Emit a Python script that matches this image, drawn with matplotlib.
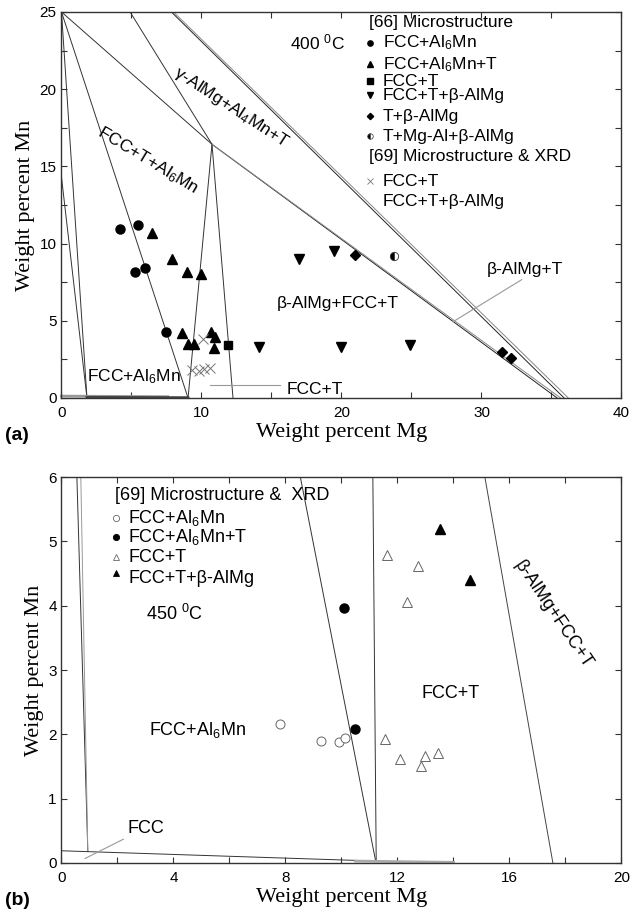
import matplotlib
matplotlib.use('Agg')
import matplotlib.pyplot as plt
from matplotlib.ticker import MultipleLocator

plt.rcParams['font.family'] = ['Liberation Sans', 'DejaVu Sans']
plt.rcParams['mathtext.default'] = 'regular'

# ---------------- Panel (a): 400 C ----------------
a_fcc_al6mn_x = [4.16, 5.47, 5.25, 5.97, 7.46]
a_fcc_al6mn_y = [10.95, 11.17, 8.14, 8.44, 4.27]
a_fcc_al6mn_t_x = [6.47, 7.86, 8.94, 9.96, 8.58, 9.06, 9.49, 10.66, 10.97, 10.92]
a_fcc_al6mn_t_y = [10.69, 9.03, 8.16, 8.03, 4.20, 3.49, 3.51, 4.24, 3.92, 3.23]
a_fcc_t_x = [11.88]
a_fcc_t_y = [3.46]
a_fcc_t_beta_x = [14.1, 20.0, 16.94, 19.5, 24.9]
a_fcc_t_beta_y = [3.29, 3.29, 9.00, 9.50, 3.40]
a_t_beta_x = [21.0, 31.45, 32.1]
a_t_beta_y = [9.29, 2.97, 2.58]
a_t_mgal_beta_x = [23.75]
a_t_mgal_beta_y = [9.22]
a_xrd_fcc_t_x = [10.1, 9.3, 9.8, 10.2, 10.6]
a_xrd_fcc_t_y = [3.81, 1.80, 1.75, 1.85, 1.95]

# phase boundary segments (x pair, y pair, colour)
a_bound_x = [[0, 1.82], [0, 1.82], [0, 9.04], [0, 10.75], [4.9, 10.75],
             [10.75, 9.04], [10.75, 12.25], [10.75, 35.4], [10.75, 35.65],
             [7.85, 35.9], [8.0, 36.2]]
a_bound_y = [[25, 0], [14.3, 0], [25, 0], [25, 16.43], [25, 16.43],
             [16.43, 0], [16.43, 0], [16.43, 0], [16.43, 0],
             [25, 0], [25, 0]]
a_bound_c = ['#333333', '#333333', '#333333', '#333333', '#333333',
             '#333333', '#333333', '#222222', '#888888',
             '#222222', '#888888']
a_floor_x = [[0, 7.6], [1.82, 9.04]]
a_floor_y = [[0.12, 0.08], [0.04, 0.02]]
a_floor_c = ['#999999', '#444444']
a_leader_x = [[27.99, 32.87], [10.6, 15.6]]
a_leader_y = [[4.95, 7.66], [0.84, 0.84]]

a_leg_labels = ['FCC+Al$_6$Mn', 'FCC+Al$_6$Mn+T', 'FCC+T', 'FCC+T+β-AlMg',
                'T+β-AlMg', 'T+Mg-Al+β-AlMg']
a_leg_y = [22.99, 21.62, 20.50, 19.62, 18.25, 16.95]
a_leg_markers = ['o', '^', 's', 'v', 'D', 'o']
a_leg2_labels = ['FCC+T', 'FCC+T+β-AlMg']
a_leg2_y = [14.03, 12.73]

# ---------------- Panel (b): 450 C ----------------
b_fcc_al6mn_x = [7.81, 9.28, 9.92, 10.12]
b_fcc_al6mn_y = [2.16, 1.90, 1.88, 1.95]
b_fcc_al6mn_t_x = [10.5, 10.08]
b_fcc_al6mn_t_y = [2.08, 3.96]
b_fcc_t_x = [11.61, 12.75, 12.35, 11.54, 12.09, 12.97, 12.83, 13.45]
b_fcc_t_y = [4.78, 4.62, 4.05, 1.93, 1.62, 1.66, 1.51, 1.71]
b_fcc_t_beta_x = [13.51, 14.6]
b_fcc_t_beta_y = [5.19, 4.40]

b_bound_x = [[0.55, 0.94], [0.69, 0.94], [0, 11.22], [8.53, 11.22],
             [11.12, 11.24], [15.12, 17.55]]
b_bound_y = [[6, 0.18], [6, 0.18], [0.19, 0.03], [6, 0.03],
             [6, 0.03], [6, 0]]
b_bound_c = ['#333333', '#999999', '#333333', '#333333', '#333333', '#444444']
b_floor_x = [[10.5, 14.0]]
b_floor_y = [[0.03, 0.01]]
b_leader_x = [[0.84, 2.21]]
b_leader_y = [[0.07, 0.37]]

b_leg_labels = ['FCC+Al$_6$Mn', 'FCC+Al$_6$Mn+T', 'FCC+T', 'FCC+T+β-AlMg']
b_leg_y = [5.36, 5.06, 4.75, 4.43]

fig = plt.figure(figsize=(6.30, 9.14), dpi=100)
ax1 = fig.add_axes([0.0976, 0.5646, 0.8889, 0.4223])
ax2 = fig.add_axes([0.0976, 0.0558, 0.8889, 0.4223])

serif = ['Liberation Serif', 'DejaVu Serif']
FS_A = 12.5
FS_B = 13


def style(ax, xmaj, xmin, ymaj, ymin):
    ax.xaxis.set_major_locator(MultipleLocator(xmaj))
    ax.xaxis.set_minor_locator(MultipleLocator(xmin))
    ax.yaxis.set_major_locator(MultipleLocator(ymaj))
    ax.yaxis.set_minor_locator(MultipleLocator(ymin))
    ax.tick_params(which='both', direction='in', top=True, right=True,
                   length=4, width=0.8, labelsize=11, color='#333333')
    ax.tick_params(axis='x', pad=6)
    for s in ax.spines.values():
        s.set_linewidth(1.0)
        s.set_color('#333333')


# ---- panel a ----
ax1.set_xlim(0, 40)
ax1.set_ylim(0, 25)
style(ax1, 10, 5, 5, 2.5)
for xs, ys, c in zip(a_bound_x, a_bound_y, a_bound_c):
    ax1.plot(xs, ys, color=c, lw=0.7)
for xs, ys, c in zip(a_floor_x, a_floor_y, a_floor_c):
    ax1.plot(xs, ys, color=c, lw=2.0, clip_on=False)
for xs, ys in zip(a_leader_x, a_leader_y):
    ax1.plot(xs, ys, color='#999999', lw=0.8)

ax1.plot(a_fcc_al6mn_x, a_fcc_al6mn_y, 'o', color='black', ms=6.5, ls='none')
ax1.plot(a_fcc_al6mn_t_x, a_fcc_al6mn_t_y, '^', color='black', ms=6.5, ls='none')
ax1.plot(a_fcc_t_x, a_fcc_t_y, 's', color='black', ms=5.5, ls='none')
ax1.plot(a_fcc_t_beta_x, a_fcc_t_beta_y, 'v', color='black', ms=6.5, ls='none')
ax1.plot(a_t_beta_x, a_t_beta_y, 'D', color='black', ms=5, ls='none')
ax1.plot(a_t_mgal_beta_x, a_t_mgal_beta_y, 'o', ms=6, ls='none', fillstyle='left',
         markerfacecolor='black', markerfacecoloralt='white', markeredgecolor='#333333',
         markeredgewidth=0.6)
ax1.plot(a_xrd_fcc_t_x, a_xrd_fcc_t_y, 'x', color='#777777', ms=6.5, mew=0.7, ls='none')

# legend (manual)
ax1.text(22.0, 24.35, '[66] Microstructure', fontsize=FS_A, va='center', ha='left')
for lab, y, m in zip(a_leg_labels, a_leg_y, a_leg_markers):
    if lab.startswith('T+Mg'):
        ax1.plot([22.05], [y], m, ms=4, fillstyle='left', markerfacecolor='black',
                 markerfacecoloralt='white', markeredgecolor='#333333', markeredgewidth=0.5)
    else:
        ax1.plot([22.05], [y], m, color='black', ms=3.8 if m != 'D' else 3.2)
    ax1.text(22.96, y, lab, fontsize=FS_A, va='center', ha='left')
ax1.text(22.0, 15.65, '[69] Microstructure & XRD', fontsize=FS_A, va='center', ha='left')
ax1.plot([22.05], [a_leg2_y[0]], 'x', color='#777777', ms=4, mew=0.6)
for lab, y in zip(a_leg2_labels, a_leg2_y):
    ax1.text(22.96, y, lab, fontsize=FS_A, va='center', ha='left')

ax1.text(16.3, 23.0, '400 $^{0}$C', fontsize=FS_A, va='center', ha='left')
ax1.text(6.18, 15.4, 'FCC+T+Al$_6$Mn', fontsize=FS_A, rotation=-31,
         rotation_mode='anchor', ha='center', va='center')
ax1.text(12.1, 18.8, 'γ-AlMg+Al$_4$Mn+T', fontsize=FS_A, rotation=-33,
         rotation_mode='anchor', ha='center', va='center')
ax1.text(19.7, 6.15, 'β-AlMg+FCC+T', fontsize=FS_A, ha='center', va='center')
ax1.text(33.1, 8.3, 'β-AlMg+T', fontsize=FS_A, ha='center', va='center')
ax1.text(5.19, 1.38, 'FCC+Al$_6$Mn', fontsize=FS_A, ha='center', va='center')
ax1.text(16.1, 0.56, 'FCC+T', fontsize=FS_A, ha='left', va='center')

ax1.set_xlabel('Weight percent Mg', fontfamily=serif, fontsize=16, labelpad=2)
ax1.set_ylabel('Weight percent Mn', fontfamily=serif, fontsize=16, labelpad=3)

# ---- panel b ----
ax2.set_xlim(0, 20)
ax2.set_ylim(0, 6)
style(ax2, 4, 2, 1, 1)
for xs, ys, c in zip(b_bound_x, b_bound_y, b_bound_c):
    ax2.plot(xs, ys, color=c, lw=0.7)
for xs, ys in zip(b_floor_x, b_floor_y):
    ax2.plot(xs, ys, color='#aaaaaa', lw=2.0, clip_on=False)
for xs, ys in zip(b_leader_x, b_leader_y):
    ax2.plot(xs, ys, color='#999999', lw=0.8)

ax2.plot(b_fcc_al6mn_x, b_fcc_al6mn_y, 'o', ms=6.5, ls='none', markerfacecolor='white',
         markeredgecolor='#666666', markeredgewidth=0.7)
ax2.plot(b_fcc_al6mn_t_x, b_fcc_al6mn_t_y, 'o', ms=6.5, ls='none', color='black')
ax2.plot(b_fcc_t_x, b_fcc_t_y, '^', ms=6.5, ls='none', markerfacecolor='white',
         markeredgecolor='#666666', markeredgewidth=0.7)
ax2.plot(b_fcc_t_beta_x, b_fcc_t_beta_y, '^', ms=6.5, ls='none', color='black')

ax2.text(1.9, 5.72, '[69] Microstructure &  XRD', fontsize=FS_B, va='center', ha='left')
b_leg_styles = [dict(marker='o', markerfacecolor='white', markeredgecolor='#666666'),
                dict(marker='o', color='black'),
                dict(marker='^', markerfacecolor='white', markeredgecolor='#666666'),
                dict(marker='^', color='black')]
for lab, y, st in zip(b_leg_labels, b_leg_y, b_leg_styles):
    ax2.plot([1.96], [y + (0.08 if lab.endswith('AlMg') else 0)], ls='none', ms=4.5,
             markeredgewidth=0.6, **st)
    ax2.text(2.38, y, lab, fontsize=FS_B, va='center', ha='left')

ax2.text(3.03, 3.87, '450 $^{0}$C', fontsize=FS_B, va='center', ha='left')
ax2.text(4.85, 2.07, 'FCC+Al$_6$Mn', fontsize=FS_B, ha='center', va='center')
ax2.text(2.37, 0.54, 'FCC', fontsize=FS_B, ha='left', va='center')
ax2.text(13.9, 2.64, 'FCC+T', fontsize=FS_B, ha='center', va='center')
ax2.text(17.54, 3.87, 'β-AlMg+FCC+T', fontsize=FS_B, rotation=-56,
         rotation_mode='anchor', ha='center', va='center')

ax2.set_xlabel('Weight percent Mg', fontfamily=serif, fontsize=16, labelpad=2)
ax2.set_ylabel('Weight percent Mn', fontfamily=serif, fontsize=16, labelpad=3)

fig.text(0.008, 0.524, '(a)', fontsize=14, fontweight='bold', va='center', ha='left')
fig.text(0.008, 0.0153, '(b)', fontsize=14, fontweight='bold', va='center', ha='left')

fig.savefig('out.png', dpi=100)
